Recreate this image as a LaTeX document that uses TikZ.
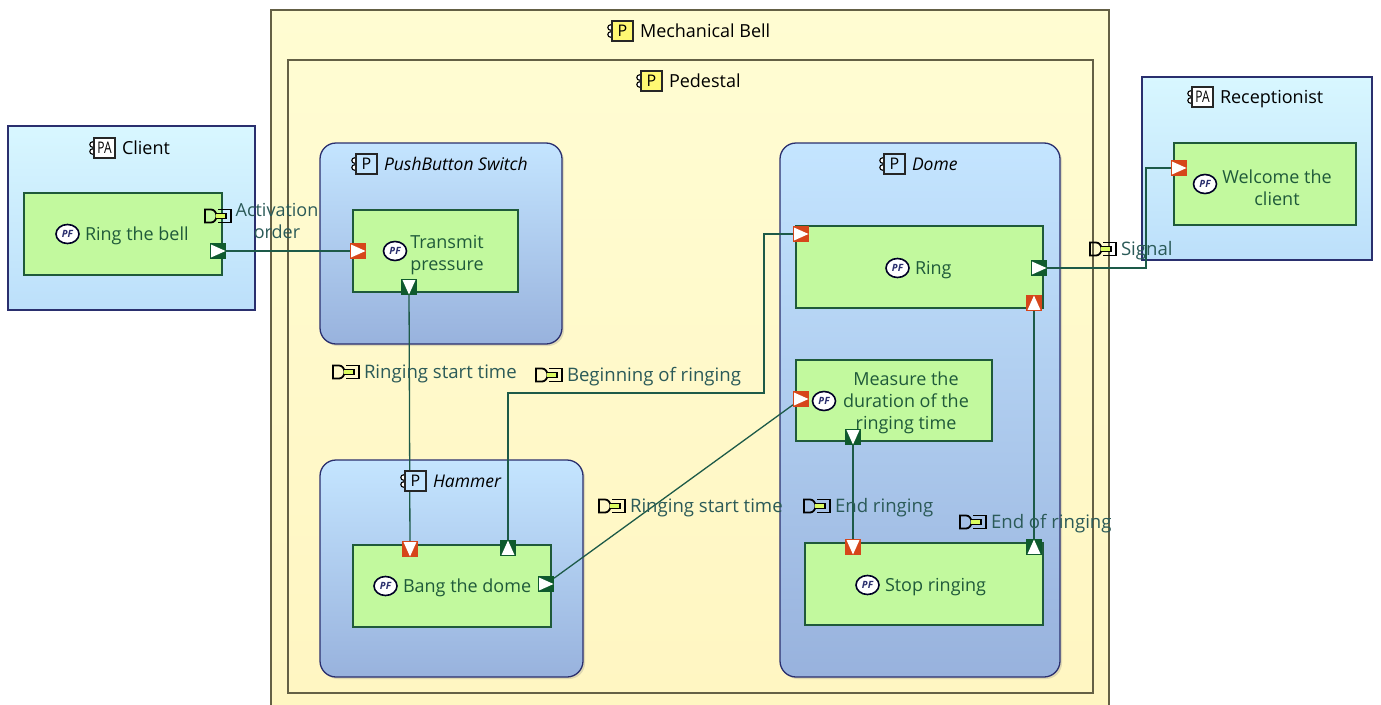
\documentclass[tikz,border=0pt]{standalone}
\usepackage{graphicx}
\usepackage{fontspec}
\setmainfont{Open Sans}
\usetikzlibrary{positioning, shapes.geometric, shadows}
\pgfdeclarelayer{front}
\pgfsetlayers{main,front}
\definecolor{actortop}{HTML}{D8F7FF}
\definecolor{actorbot}{HTML}{BCDFFA}
\definecolor{comptop}{HTML}{C4E5FF}
\definecolor{compbot}{HTML}{98B2DD}
\definecolor{belltop}{HTML}{FFFCD2}
\definecolor{bellbot}{HTML}{FFF6C2}
\definecolor{funcfill}{HTML}{C2F99E}
\definecolor{funcline}{HTML}{1F5A3A}
\definecolor{flowline}{HTML}{1D5A48}
\definecolor{inport}{HTML}{D6461A}
\definecolor{outport}{HTML}{0F5A2E}
\definecolor{exchtext}{HTML}{2B5A58}
\definecolor{navyline}{HTML}{2A2F6E}
\tikzstyle{every node}=[font=\fontsize{18}{22}\selectfont, align=center, inner sep=0pt, outer sep=0pt]
\tikzstyle{oneline} = [anchor=west, text height=16pt, text depth=4pt]
\tikzstyle{actorbox} = [rectangle, draw=navyline, line width=1.3pt, top color=actortop, bottom color=actorbot]
\tikzstyle{bellbox} = [rectangle, draw=black!70!yellow, line width=1.2pt, top color=belltop, bottom color=bellbot]
\tikzstyle{compbox} = [rectangle, rounded corners=16pt, draw=navyline, line width=1.3pt, top color=comptop, bottom color=compbot, drop shadow={shadow xshift=2pt, shadow yshift=-2pt, opacity=0.25}]
\tikzstyle{funcbox} = [rectangle, draw=funcline, line width=1.3pt, fill=funcfill]
\tikzstyle{functext} = [text=funcline]
\tikzstyle{exchtext} = [oneline, text=exchtext, font=\fontsize{18.6}{22}\selectfont]
\tikzstyle{flow} = [draw=flowline, line width=1.3pt]
\tikzstyle{functag} = [ellipse, draw=black!85!blue, line width=1.6pt, fill=white, minimum width=23pt, minimum height=19pt, font=\fontsize{10}{10}\selectfont\bfseries\itshape, text=navyline]
\tikzset{
  comptag/.style={rectangle, draw=black!85, line width=1.3pt, fill=#1, minimum width=21pt, minimum height=20pt,
    font=\fontsize{16}{16}\selectfont,
    append after command={\pgfextra{
      \draw[black, line width=1.1pt, fill=white] ([shift={(-1.5pt,3.5pt)}]\tikzlastnode.west) circle [radius=2.7pt];
      \draw[black, line width=1.1pt, fill=white] ([shift={(-1.5pt,-3.5pt)}]\tikzlastnode.west) circle [radius=2.7pt];
    }}},
  comptag/.default=white,
  exchtag/.style={rectangle, minimum width=28pt, minimum height=17pt, path picture={
    \begin{scope}[shift={(path picture bounding box.center)}]
      \draw[black, line width=1.8pt] (0pt,-6.5pt) -- (13pt,-6.5pt) -- (13pt,6.5pt) -- (0pt,6.5pt);
      \draw[black, line width=1.8pt] (-13pt,-6.5pt) -- (-7pt,-6.5pt) arc (-90:90:5.5pt and 6.5pt) -- (-13pt,6.5pt) -- cycle;
      \fill[funcfill!60!yellow] (-2pt,-2.5pt) rectangle (8pt,2.5pt);
      \draw[black, line width=1.1pt] (-2pt,-2.5pt) -- (8pt,-2.5pt) -- (8pt,2.5pt) -- (-2pt,2.5pt);
    \end{scope}}},
  portbox/.style={rectangle, minimum size=16pt, path picture={
    \fill[white] ([shift={(#1:7.5pt)}]path picture bounding box.center)
      -- ([shift={(#1+137:9.5pt)}]path picture bounding box.center)
      -- ([shift={(#1-137:9.5pt)}]path picture bounding box.center) -- cycle;}},
  inbox/.style={portbox=#1, fill=inport},
  outbox/.style={portbox=#1, fill=outport}
}
\begin{document}
\begin{tikzpicture}[x=1pt, y=-1pt]
    \clip (0,0) rectangle (1381,704);

    % containers
    \node (client) [actorbox, minimum width=247pt, minimum height=184pt] at (131.5,218) {};
    \node (receptionist) [actorbox, minimum width=230pt, minimum height=183pt] at (1257,168.5) {};
    \node (bell) [bellbox, minimum width=838pt, minimum height=710pt] at (690,365) {};
    \node (pedestal) [bellbox, minimum width=805pt, minimum height=633pt] at (690.5,376.5) {};
    \node (switch) [compbox, minimum width=242pt, minimum height=201pt] at (441,243.5) {};
    \node (hammer) [compbox, minimum width=263pt, minimum height=217pt] at (451.5,568.5) {};
    \node (dome) [compbox, minimum width=280pt, minimum height=534pt] at (920,410) {};

    % functions
    \node (ringbell) [funcbox, minimum width=198pt, minimum height=82pt] at (123,234) {};
    \node (transmit) [funcbox, minimum width=165pt, minimum height=82pt] at (435.5,251) {};
    \node (bang) [funcbox, minimum width=198pt, minimum height=82pt] at (452,586) {};
    \node (ring) [funcbox, minimum width=247pt, minimum height=82pt] at (919.5,267) {};
    \node (measure) [funcbox, minimum width=196pt, minimum height=81pt] at (894,400.5) {};
    \node (stop) [funcbox, minimum width=238pt, minimum height=82pt] at (924,584) {};
    \node (welcome) [funcbox, minimum width=182pt, minimum height=82pt] at (1265,184) {};

    % ports
    \begin{pgfonlayer}{front}
    \node (ringbellout) [outbox=0] at (218,251) {};
    \node (transmitin) [inbox=0] at (358,251) {};
    \node (transmitout) [outbox=-90] at (409,287) {};
    \node (bangin) [inbox=-90] at (410,549) {};
    \node (bangup) [outbox=90] at (508,548) {};
    \node (bangout) [outbox=0] at (546,584) {};
    \node (ringin) [inbox=0] at (801,234) {};
    \node (ringout) [outbox=0] at (1039,268) {};
    \node (ringstop) [inbox=90] at (1034,303) {};
    \node (measurein) [inbox=0] at (801,399) {};
    \node (measureout) [outbox=-90] at (853,437) {};
    \node (stopin) [inbox=-90] at (853,547) {};
    \node (stopout) [outbox=90] at (1034,547) {};
    \node (welcomein) [inbox=0] at (1179,168) {};
    \end{pgfonlayer}
    \coordinate (bendbegin) at (764,393);
    \coordinate (bendsignal) at (1146,168);

    % connectors
    \draw [flow] (ringbellout) -- (transmitin);
    \draw [flow] (transmitout) -- (bangin);
    \draw [flow] (bangup) |- (bendbegin) |- (ringin);
    \draw [flow] (bangout) -- (measurein);
    \draw [flow] (measureout) -- (stopin);
    \draw [flow] (stopout) -- (ringstop);
    \draw [flow] (ringout) -| (bendsignal) -- (welcomein);

    % container titles
    \node (clienttxt) [oneline] at (122,148) {Client};
    \node (clienttag) [comptag, left=7pt of clienttxt] {\scalebox{.75}[1]{PA}};
    \node (receptionisttxt) [oneline] at (1220,97) {Receptionist};
    \node (receptionisttag) [comptag, left=7pt of receptionisttxt] {\scalebox{.75}[1]{PA}};
    \node (belltxt) [oneline] at (640,31) {Mechanical Bell};
    \node (belltag) [comptag=yellow!55, left=7pt of belltxt] {P};
    \node (pedestaltxt) [oneline] at (669,81) {Pedestal};
    \node (pedestaltag) [comptag=yellow!55, left=7pt of pedestaltxt] {P};
    \node (switchtxt) [oneline, font=\fontsize{17.5}{22}\selectfont\itshape] at (384,164) {PushButton Switch};
    \node (switchtag) [comptag=comptop, left=7pt of switchtxt] {P};
    \node (hammertxt) [oneline, font=\fontsize{17.5}{22}\selectfont\itshape] at (433,481) {Hammer};
    \node (hammertag) [comptag=comptop, left=7pt of hammertxt] {P};
    \node (dometxt) [oneline, font=\fontsize{17.5}{22}\selectfont\itshape] at (912,164) {Dome};
    \node (dometag) [comptag=comptop, left=7pt of dometxt] {P};

    % function labels
    \node (ringbelltxt) [functext, oneline] at (85,234) {Ring the bell};
    \node (ringbelltag) [functag, left=6pt of ringbelltxt] {PF};
    \node (transmittxt) [functext] at (447,255) {Transmit\\pressure};
    \node (transmittag) [functag] at (395,251) {PF};
    \node (bangtxt) [functext, oneline] at (403,586) {Bang the dome};
    \node (bangtag) [functag, left=6pt of bangtxt] {PF};
    \node (ringtxt) [functext, oneline] at (915,268) {Ring};
    \node (ringtag) [functag, left=6pt of ringtxt] {PF};
    \node (measuretxt) [functext] at (906,403) {Measure the\\duration of the\\ringing time};
    \node (measuretag) [functag] at (824,401) {PF};
    \node (stoptxt) [functext, oneline] at (885,585) {Stop ringing};
    \node (stoptag) [functag, left=6pt of stoptxt] {PF};
    \node (welcometxt) [functext] at (1277,188) {Welcome the\\client};
    \node (welcometag) [functag] at (1205,184) {PF};

    % exchange labels
    \node (activationtxt) [text=exchtext] at (277,221) {Activation\\order};
    \node (activationtag) [exchtag] at (218,216) {};
    \node (signaltxt) [exchtext] at (1121,249) {Signal};
    \node (signaltag) [exchtag, left=4pt of signaltxt] {};
    \node (startatxt) [exchtext] at (364,372) {Ringing start time};
    \node (startatag) [exchtag, left=4pt of startatxt] {};
    \node (beginningtxt) [exchtext] at (567,375) {Beginning of ringing};
    \node (beginningtag) [exchtag, left=4pt of beginningtxt] {};
    \node (startbtxt) [exchtext] at (630,506) {Ringing start time};
    \node (startbtag) [exchtag, left=4pt of startbtxt] {};
    \node (endtxt) [exchtext] at (835,506) {End ringing};
    \node (endtag) [exchtag, left=4pt of endtxt] {};
    \node (endoftxt) [exchtext] at (991,522) {End of ringing};
    \node (endoftag) [exchtag, left=4pt of endoftxt] {};
\end{tikzpicture}
\end{document}
